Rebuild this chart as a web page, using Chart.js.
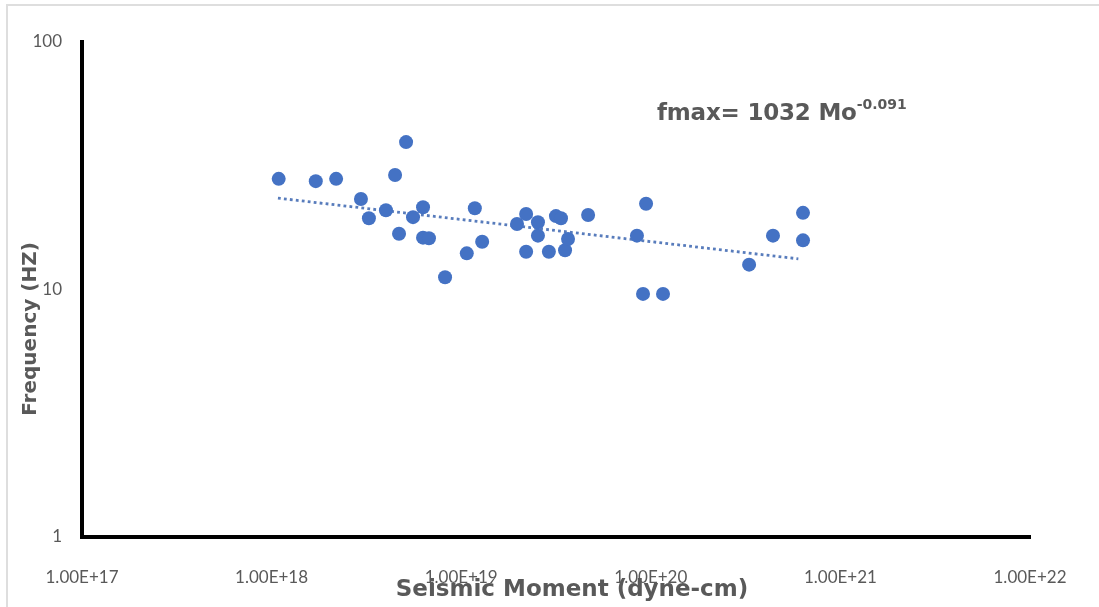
<!DOCTYPE html>
<html>
<head>
<meta charset="utf-8">
<script src="https://cdn.jsdelivr.net/npm/chart.js@4.4.1/dist/chart.umd.min.js"></script>
<style>
  html, body { margin:0; padding:0; background:#fff; }
  #wrap { position:relative; width:1099px; height:607px; overflow:hidden; }
  #frame { position:absolute; left:6px; top:4px; width:1200px; height:700px; border-left:2px solid #dedede; border-top:2px solid #dedede; }
  #eq { position:absolute; left:657px; top:98px; font:bold 23px "DejaVu Sans"; color:#595959; white-space:nowrap; letter-spacing:-0.2px; }
  #eq sup { font-size:14px; position:relative; top:-2px; letter-spacing:0; }
  canvas { position:absolute; left:0; top:0; }
</style>
</head>
<body>
<div id="wrap">
  <div id="frame"></div>
  <canvas id="chart" width="1099" height="607"></canvas>
  <div id="eq">fmax= 1032 Mo<sup>-0.091</sup></div>
</div>
<script>
// seismic moment (dyne-cm) vs corner frequency (Hz)
const momentX = [1.09e18, 1.71e18, 2.19e18, 2.96e18, 3.26e18, 4.01e18, 4.48e18, 4.70e18, 5.12e18,
  5.57e18, 6.29e18, 6.29e18, 6.76e18, 8.22e18, 1.07e19, 1.18e19, 1.29e19, 1.97e19, 2.20e19,
  2.20e19, 2.54e19, 2.54e19, 2.90e19, 3.16e19, 3.36e19, 3.53e19, 3.66e19, 4.67e19, 8.45e19,
  9.10e19, 9.44e19, 1.16e20, 3.30e20, 4.41e20, 6.35e20, 6.35e20];
const freqY = [28.0, 27.4, 28.0, 23.2, 19.4, 20.9, 29.0, 16.8, 39.4,
  19.6, 21.5, 16.2, 16.1, 11.2, 14.0, 21.3, 15.6, 18.4, 20.2,
  14.2, 18.7, 16.5, 14.2, 19.8, 19.4, 14.4, 16.0, 20.0, 16.5,
  9.6, 22.2, 9.6, 12.6, 16.5, 20.4, 15.8];
// power-law trend line, end points
const trendX = [1.08e18, 6.0e20];
const trendY = [23.4, 13.3];

const xTicks = [1e17, 1e18, 1e19, 1e20, 1e21, 1e22];
const xTickLabels = ['1.00E+17', '1.00E+18', '1.00E+19', '1.00E+20', '1.00E+21', '1.00E+22'];
const yTicks = [1, 10, 100];
const yTickLabels = ['1', '10', '100'];
const xTitle = 'Seismic Moment (dyne-cm)';
const yTitle = 'Frequency (HZ)';

const axisTitles = {
  id: 'axisTitles',
  afterDraw(chart){
    const {ctx, chartArea: a} = chart;
    ctx.save();
    ctx.fillStyle = '#595959';
    ctx.textAlign = 'center'; ctx.textBaseline = 'middle';
    ctx.font = 'bold 23px "DejaVu Sans"';
    ctx.fillText(xTitle, 572, a.bottom + 53);
    ctx.font = 'bold 20px "DejaVu Sans"';
    ctx.translate(31, 329);
    ctx.rotate(-Math.PI/2);
    ctx.fillText(yTitle, 0, 0);
    ctx.restore();
  }
};

const tickFont = { family:'Lato', size:17 };

new Chart(document.getElementById('chart'), {
  type: 'scatter',
  data: {
    datasets: [
      { label:'events', data: momentX.map((x,i)=>({x, y:freqY[i]})), backgroundColor:'#4472c4',
        borderWidth:0, pointRadius:7, pointHoverRadius:7, order:0 },
      { label:'trend', type:'line', data: trendX.map((x,i)=>({x, y:trendY[i]})), borderColor:'#587cbc',
        borderWidth:2.8, borderDash:[2.8,3.2], pointRadius:0, fill:false, order:1 }
    ]
  },
  options: {
    responsive:false, animation:false,
    layout: { padding: { top:42, right:69, bottom:0, left:0 } },
    plugins: { legend:{ display:false }, tooltip:{ enabled:false } },
    scales: {
      x: {
        type:'logarithmic', min:1e17, max:1e22,
        grid:{ display:false, drawTicks:false },
        border:{ display:true, color:'#000', width:4 },
        ticks:{ font:tickFont, color:'#595959', padding:30, maxRotation:0, autoSkip:false,
          callback:(v,i)=>xTickLabels[i] },
        afterBuildTicks: s => { s.ticks = xTicks.map(v=>({value:v})); },
        afterFit: s => { s.height = 70; }
      },
      y: {
        type:'logarithmic', min:1, max:100,
        grid:{ display:false, drawTicks:false },
        border:{ display:true, color:'#000', width:4 },
        ticks:{ font:tickFont, color:'#595959', padding:20, autoSkip:false,
          callback:(v,i)=>yTickLabels[i] },
        afterBuildTicks: s => { s.ticks = yTicks.map(v=>({value:v})); },
        afterFit: s => { s.width = 82; }
      }
    }
  },
  plugins: [axisTitles]
});
</script>
</body>
</html>
